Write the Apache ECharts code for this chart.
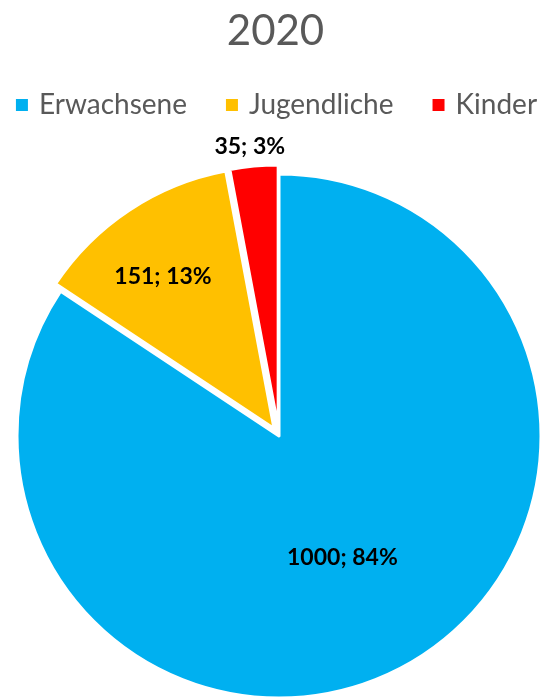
<!DOCTYPE html>
<html>
<head>
	<meta charset="utf-8">
	<title>2020</title>
	<script src="https://cdn.jsdelivr.net/npm/echarts@6/dist/echarts.min.js"></script>
	<style type="text/css">
		body { margin: 0; background: #ffffff; }
		#main { width: 551px; height: 698px; }
	</style>
</head>
<body>
	<div id="main"></div>
	<script type="text/javascript">
		var chartTitle = '2020';
		var categories = ['Erwachsene', 'Jugendliche', 'Kinder'];
		var values = [1000, 151, 35];
		var percents = ['84%', '13%', '3%'];
		var colors = ['#00B0F0', '#FFC000', '#FF0000'];
		var exploded = [false, true, true];
		// label nudges, Excel places them a bit outward
		var labelOffsets = [[0, 4], [-37, -40], [-16, -147]];

		var pieData = [];
		for (var i = 0; i < categories.length; i++) {
			pieData.push({
				name: categories[i],
				value: values[i],
				selected: exploded[i],
				itemStyle: { color: colors[i] }
			});
		}

		var myChart = echarts.init(document.getElementById('main'));
		var option = {
			animation: false,
			title: {
				text: chartTitle,
				left: 'center',
				top: 5,
				textStyle: {
					color: '#595959',
					fontFamily: 'Lato',
					fontWeight: 'normal',
					fontSize: 42
				}
			},
			legend: {
				top: 86,
				left: 'center',
				icon: 'rect',
				itemWidth: 14,
				itemHeight: 14,
				itemGap: 37,
				data: categories,
				textStyle: {
					color: '#595959',
					fontFamily: 'Lato',
					fontSize: 28,
					padding: [0, 0, 0, 5]
				}
			},
			series: [
				{
					type: 'pie',
					center: [279, 436],
					radius: 262,
					startAngle: 90,
					clockwise: true,
					selectedMode: 'multiple',
					selectedOffset: 9,
					emphasis: { disabled: true },
					itemStyle: {
						borderColor: '#ffffff',
						borderWidth: 3
					},
					label: {
						show: true,
						position: 'inside',
						color: '#000000',
						fontFamily: 'Lato',
						fontWeight: 'bold',
						fontSize: 23,
						formatter: function (p) {
							return p.value + '; ' + percents[p.dataIndex];
						}
					},
					labelLayout: function (params) {
						var off = labelOffsets[params.dataIndex];
						return { dx: off[0], dy: off[1] };
					},
					labelLine: { show: false },
					data: pieData
				}
			]
		};
		myChart.setOption(option);
	</script>
</body>
</html>
